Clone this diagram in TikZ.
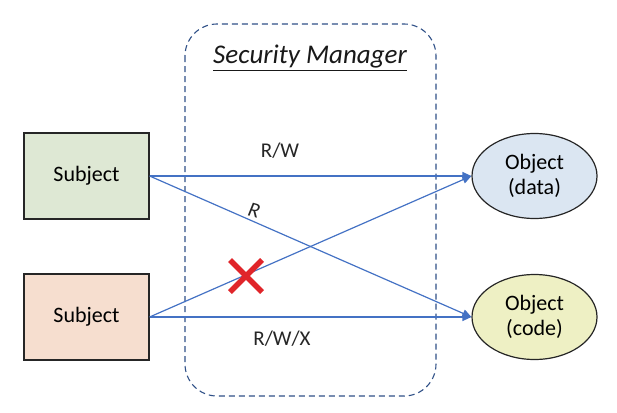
\documentclass[tikz,border=0pt]{standalone}
\usepackage{fontspec}
\setmainfont{Carlito}
\usetikzlibrary{arrows.meta,shapes.geometric,calc}
\definecolor{arrowblue}{HTML}{4472C4}
\definecolor{dashblue}{HTML}{2F5087}
\definecolor{subjgreen}{HTML}{DEE8D4}
\definecolor{subjpeach}{HTML}{F6DECF}
\definecolor{objblue}{HTML}{DBE6F2}
\definecolor{objyellow}{HTML}{EEF0C4}
\definecolor{crossred}{HTML}{E0252A}
\tikzset{
  subjbox/.style={draw=black!85, line width=1.2pt, minimum width=125pt, minimum height=86pt, inner sep=0pt, font=\fontsize{22}{26}\selectfont},
  objell/.style={ellipse, draw=black!85, line width=1.2pt, minimum width=125pt, minimum height=85pt, inner sep=0pt, align=center, font=\fontsize{22}{25}\selectfont},
  conn/.style={draw=arrowblue, line width=1.2pt, -{Triangle[length=9pt,width=8pt]}},
  lbl/.style={font=\fontsize{21}{24}\selectfont, text=black!85}
}
\begin{document}
\begin{tikzpicture}[x=1pt,y=-1pt]
\useasboundingbox (0,0) rectangle (617,412);
\draw[dashblue, line width=1.1pt, dash pattern=on 6pt off 4pt, rounded corners=32pt] (185,24) rectangle (436,396);
\node[font=\fontsize{27}{30}\selectfont\itshape, text=black!90] (title) at (310,58) {\underline{Security Manager}};
\node[subjbox, fill=subjgreen] (s1) at (86.5,176) {Subject};
\node[subjbox, fill=subjpeach] (s2) at (86.5,317) {Subject};
\node[objell, fill=objblue] (od) at (534.5,176) {Object\\(data)};
\node[objell, fill=objyellow] (oc) at (534.5,317) {Object\\(code)};
\draw[conn] (s1.east) -- (od.west);
\draw[conn] (s1.east) -- (oc.west);
\draw[conn] (s2.east) -- (od.west);
\draw[conn] (s2.east) -- (oc.west);
\node[lbl] (l1) at (280,151) {R/W};
\node[lbl, font=\fontsize{21}{24}\selectfont\itshape, rotate=-15] (l2) at (254,210) {R};
\node[lbl] (l3) at (282,339) {R/W/X};
\coordinate (xc) at (246,276);
\draw[crossred, line width=5.5pt] ($(xc)+(-16,-16)$) -- ($(xc)+(16,16)$);
\draw[crossred, line width=5.5pt] ($(xc)+(-16,16)$) -- ($(xc)+(16,-16)$);
\end{tikzpicture}
\end{document}
